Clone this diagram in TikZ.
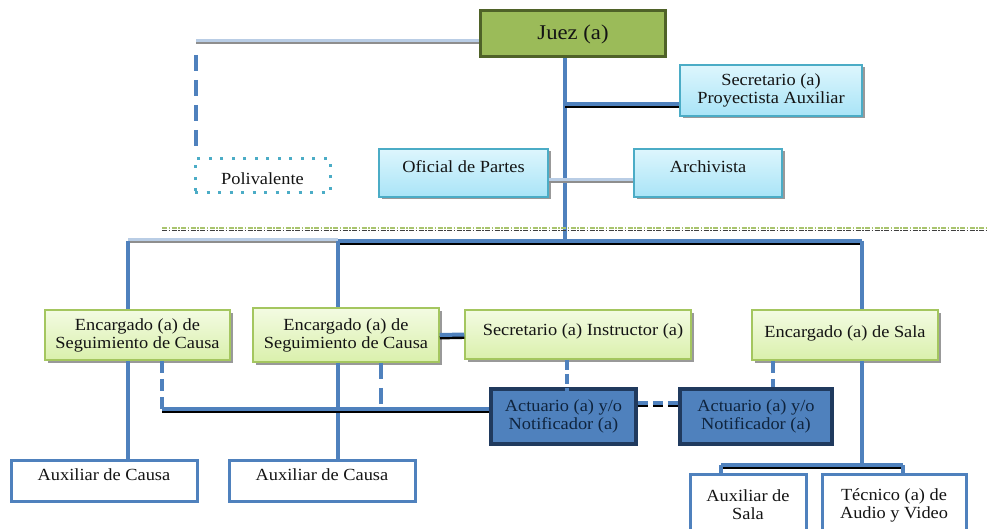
\documentclass[tikz,border=0pt]{standalone}
\usepackage{fontspec}
\setmainfont{Liberation Serif}[FakeStretch=1.08]
\usetikzlibrary{shadows}
\definecolor{blu}{HTML}{4F81BD}
\definecolor{juezgreen}{HTML}{9BBB59}
\definecolor{juezdark}{HTML}{4F6228}
\definecolor{cyanT}{HTML}{DDF6FD}
\definecolor{cyanB}{HTML}{A9E4F7}
\definecolor{cyanline}{HTML}{4BACC6}
\definecolor{greenT}{HTML}{F3FBE2}
\definecolor{greenB}{HTML}{DAF0AC}
\definecolor{greenline}{HTML}{A4C65F}
\definecolor{navy}{HTML}{203A5E}
\definecolor{textnavy}{HTML}{0F243E}
\definecolor{dotteal}{HTML}{4BACC6}
\definecolor{lightblu}{HTML}{B9CDE5}
\definecolor{greyline}{HTML}{8E8E8E}
\definecolor{sepgreen}{HTML}{A9C46E}
\begin{document}
\begin{tikzpicture}[x=1pt,y=-1pt,
  every node/.style={inner sep=0pt, align=center, text=black!92,
    font=\fontsize{17}{18}\selectfont},
  shadowed/.style={drop shadow={shadow xshift=2.5pt, shadow yshift=-2.5pt,
    fill=black!40, opacity=1}},
  juezbox/.style={fill=juezgreen, draw=juezdark, line width=3pt,
    font=\fontsize{21}{24}\selectfont},
  cyanbox/.style={shadowed, top color=cyanT, bottom color=cyanB,
    draw=cyanline, line width=1.2pt},
  greenbox/.style={shadowed, top color=greenT, bottom color=greenB,
    draw=greenline, line width=1.5pt},
  actbox/.style={fill=blu, draw=navy, line width=3.5pt, text=textnavy},
  auxbox/.style={fill=white, draw=blu, line width=3pt},
  polibox/.style={draw=dotteal, line width=3pt, dash pattern=on 3pt off 8.5pt},
  trunk/.style={draw=blu, line width=4pt},
  link/.style={draw=blu, line width=4pt,
    preaction={draw=black, line width=3.5pt, transform canvas={yshift=-2.7pt}}},
  greylink/.style={draw=greyline, line width=5pt,
    postaction={draw=lightblu, line width=2.5pt, transform canvas={yshift=1.25pt}}},
  dlink/.style={draw=blu, line width=3.5pt, dash pattern=on 16pt off 9pt},
  dlinkh/.style={draw=blu, line width=4pt, dash pattern=on 10pt off 5pt,
    preaction={draw=black, line width=3pt, dash pattern=on 10pt off 5pt,
      transform canvas={yshift=-2pt}}},
  sepg/.style={draw=sepgreen, line width=1.3pt,
    dash pattern=on 5pt off 1.5pt on 1.5pt off 1.5pt},
  sepk/.style={draw=black!75, line width=1pt,
    dash pattern=on 5pt off 1.5pt on 1.5pt off 1.5pt}
]
\useasboundingbox (0,0) rectangle (987,529);

% ---------- boxes ----------
\node[juezbox, minimum width=185pt, minimum height=46pt] (juez) at (573,34) {Juez (a)};
\node[cyanbox, minimum width=182pt, minimum height=51pt] (secp) at (771,90.5)
  {Secretario (a)\\Proyectista Auxiliar};
\node[cyanbox, minimum width=169pt, minimum height=48pt, text height=7pt, text depth=7pt]
  (ofi) at (463.5,173) {Oficial de Partes};
\node[cyanbox, minimum width=148pt, minimum height=48pt, text height=7pt, text depth=7pt]
  (arch) at (708,173) {Archivista};
\node[polibox, minimum width=135pt, minimum height=34pt, text height=18pt, text depth=0pt]
  (poli) at (262.5,176) {Polivalente};

\node[greenbox, minimum width=185pt, minimum height=50pt] (enc1) at (137.5,335)
  {Encargado (a) de\\Seguimiento de Causa};
\node[greenbox, minimum width=186pt, minimum height=54pt] (enc2) at (346,335)
  {Encargado (a) de\\Seguimiento de Causa};
\node[greenbox, minimum width=226pt, minimum height=49pt, text height=8pt, text depth=6pt]
  (sins) at (578,334.5) {\hspace*{10pt}Secretario (a) Instructor (a)};
\node[greenbox, minimum width=186pt, minimum height=50pt, text height=9pt, text depth=5pt]
  (sala) at (845,335) {Encargado (a) de Sala};

\node[actbox, minimum width=145pt, minimum height=55pt] (act1) at (563.5,416.5)
  {Actuario (a) y/o\\Notificador (a)};
\node[actbox, minimum width=152pt, minimum height=55pt] (act2) at (756,416.5)
  {Actuario (a) y/o\\Notificador (a)};

\node[auxbox, minimum width=186pt, minimum height=41pt, text height=7pt, text depth=7pt]
  (auxc1) at (104,480.5) {Auxiliar de Causa};
\node[auxbox, minimum width=186pt, minimum height=41pt, text height=7pt, text depth=7pt]
  (auxc2) at (322,480.5) {Auxiliar de Causa};
\node[auxbox, minimum width=116pt, minimum height=62pt] (auxs) at (748,505)
  {Auxiliar de\\Sala};
\node[auxbox, minimum width=144pt, minimum height=62pt] (tec) at (894,505)
  {Técnico (a) de\\Audio y Video};

% ---------- junction points ----------
\coordinate (pl) at (196,42);
\coordinate (pd) at (196,151);
\coordinate (tb) at (565,241);
\coordinate (j1) at (565,104);
\coordinate (j2) at (565,181);
\coordinate (s1) at (162,228);
\coordinate (s2) at (987,228);
\coordinate (s3) at (162,231);
\coordinate (s4) at (987,231);
\coordinate (b1) at (128,241);
\coordinate (b2) at (338,241);
\coordinate (b3) at (862,241);
\coordinate (c1) at (162,409);
\coordinate (c2) at (381,406);
\coordinate (c3) at (567,398);
\coordinate (c4) at (773,0);
\coordinate (c5) at (0,403);
\coordinate (d0) at (862,465);
\coordinate (d1) at (721,465);
\coordinate (d2) at (903,465);

% ---------- connectors ----------
\draw[greylink] (pl -| juez.west) -- (pl);
\draw[dlink] ([yshift=-13pt]pl) -- (pd);
\draw[trunk] (juez.south -| tb) -- (tb);
\draw[link] (j1) -- (j1 -| secp.west);
\draw[greylink] (j2 -| ofi.east) -- (j2 -| arch.west);

\draw[sepg] (s1) -- (s2);
\draw[sepk] (s3) -- (s4);

\draw[greylink] (b1) -- (b2);
\draw[link] (b2) -- (b3);
\draw[trunk] (b1) -- (b1 |- enc1.north);
\draw[trunk] (b2) -- (b2 |- enc2.north);
\draw[trunk] (b3) -- (b3 |- sala.north);

\draw[link] (enc2.east) -- (sins.west);
\draw[trunk] (b1 |- enc1.south) -- (b1 |- auxc1.north);
\draw[trunk] (b2 |- enc2.south) -- (b2 |- auxc2.north);

\draw[dlink, dash pattern=on 12pt off 6pt] (c1 |- enc1.south) -- (c1);
\draw[link] (c1) -- (c1 -| act1.west);
\draw[dlink] (c2 |- enc2.south) -- (c2);
\draw[dlink, dash pattern=on 10pt off 4pt] (c3 |- sins.south) -- (c3);
\draw[dlink, dash pattern=on 12pt off 6pt] (c4 |- sala.south) -- (c4 |- act2.north);
\draw[dlinkh] (c5 -| act1.east) -- (c5 -| act2.west);

\draw[trunk] (b3 |- sala.south) -- (d0);
\draw[link] (d1) -- (d2);
\draw[trunk] (d1 |- auxs.north) -- (d1);
\draw[trunk] (d2) -- (d2 |- tec.north);
\end{tikzpicture}
\end{document}
